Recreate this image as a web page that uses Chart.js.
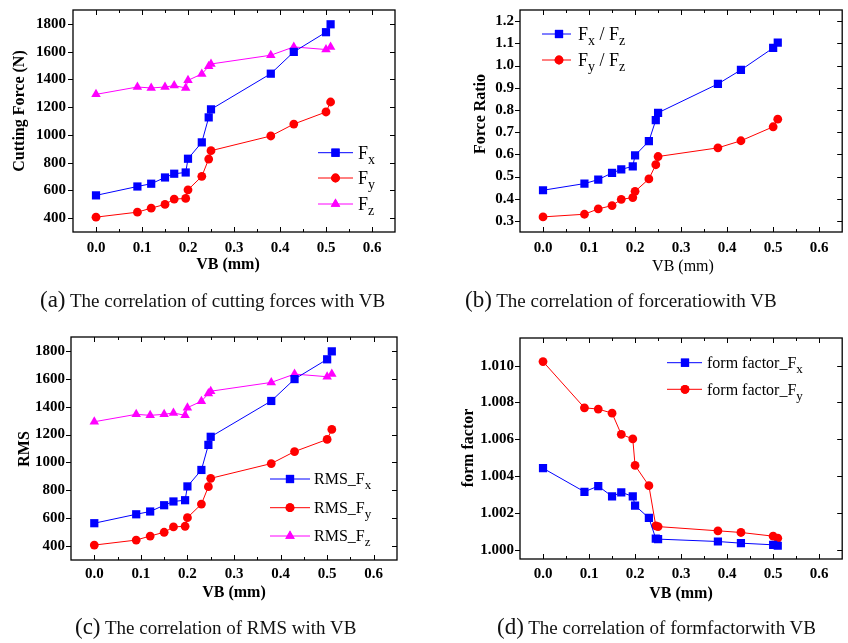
<!DOCTYPE html>
<html>
<head>
<meta charset="utf-8">
<script src="https://cdn.jsdelivr.net/npm/chart.js@4/dist/chart.umd.min.js"></script>
<style>
  body { margin: 0; background: #fff; width: 848px; height: 643px; overflow: hidden; position: relative;
         font-family: "Liberation Serif", "Times New Roman", serif; }
  canvas { position: absolute; }
  .cap { position: absolute; font-size: 19px; line-height: 26px; color: #111; white-space: nowrap; }
  .cap .tag { font-size: 23px; }
</style>
</head>
<body>
<canvas id="chartA" width="424" height="290" style="left:0;top:0"></canvas>
<canvas id="chartB" width="424" height="290" style="left:424px;top:0"></canvas>
<canvas id="chartC" width="424" height="300" style="left:0;top:320px"></canvas>
<canvas id="chartD" width="424" height="300" style="left:424px;top:320px"></canvas>

<div class="cap" style="left:40px;top:287px"><span class="tag">(a)</span> The correlation of cutting forces with VB</div>
<div class="cap" style="left:465px;top:287px"><span class="tag">(b)</span> The correlation of forceratiowith VB</div>
<div class="cap" style="left:75px;top:614px"><span class="tag">(c)</span> The correlation of RMS with VB</div>
<div class="cap" style="left:497px;top:614px"><span class="tag">(d)</span> The correlation of formfactorwith VB</div>

<script>
// Flank wear VB (mm) at each measurement
const vb = [0, 0.09, 0.12, 0.15, 0.17, 0.195, 0.2, 0.23, 0.245, 0.25, 0.38, 0.43, 0.5, 0.51];

// Cutting force components (N)
const forceFx = [564, 628, 648, 693, 720, 729, 828, 946, 1126, 1184, 1441, 1598, 1740, 1797];
const forceFy = [407, 443, 472, 499, 537, 542, 604, 701, 826, 886, 992, 1078, 1165, 1237];
const forceFz = [1292, 1345, 1338, 1345, 1355, 1338, 1393, 1439, 1494, 1511, 1574, 1634, 1615, 1634];

// Force ratios
const ratioFxFz = [0.438, 0.468, 0.486, 0.516, 0.532, 0.546, 0.595, 0.659, 0.754, 0.787, 0.917, 0.980, 1.079, 1.103];
const ratioFyFz = [0.318, 0.330, 0.354, 0.369, 0.397, 0.405, 0.433, 0.489, 0.553, 0.590, 0.629, 0.661, 0.724, 0.758];

// RMS of the force signals
const rmsFx = [564, 628, 648, 693, 720, 729, 828, 946, 1126, 1184, 1441, 1598, 1740, 1797];
const rmsFy = [407, 443, 472, 499, 537, 542, 604, 701, 826, 886, 992, 1078, 1165, 1237];
const rmsFz = [1292, 1345, 1338, 1345, 1355, 1338, 1393, 1439, 1494, 1511, 1574, 1634, 1615, 1634];

// Form factor of the force signals
const formFx = [1.00443, 1.00315, 1.00346, 1.00290, 1.00312, 1.00290, 1.00240, 1.00173, 1.00061, 1.00058, 1.00045, 1.00036, 1.00027, 1.00022];
const formFy = [1.01022, 1.00771, 1.00764, 1.00742, 1.00627, 1.00602, 1.00458, 1.00348, 1.00130, 1.00126, 1.00103, 1.00094, 1.00074, 1.00063];

// Tick values
const vbTicks = [0, 0.1, 0.2, 0.3, 0.4, 0.5, 0.6];
const forceTicks = [400, 600, 800, 1000, 1200, 1400, 1600, 1800];
const ratioTicks = [0.3, 0.4, 0.5, 0.6, 0.7, 0.8, 0.9, 1.0, 1.1, 1.2];
const formTicks = [1.000, 1.002, 1.004, 1.006, 1.008, 1.010];

const FONT = '"Liberation Serif", "Times New Roman", serif';
const BLUE = '#0000ff', RED = '#ff0000', MAGENTA = '#ff00ff';
const MARK = { rect: 5.8, circle: 4.4, triangle: 5.5 };

// Box frame, tick marks, axis titles and the in-plot legend
const framePlugin = {
  id: 'frame',
  afterDraw(chart, args, o) {
    const { ctx, chartArea: a, scales: { x, y } } = chart;
    ctx.save();
    ctx.strokeStyle = '#000';
    ctx.lineWidth = 1.3;
    ctx.strokeRect(a.left, a.top, a.right - a.left, a.bottom - a.top);
    ctx.lineWidth = 1;
    ctx.beginPath();
    const xt = x.ticks.map(t => t.value);
    xt.forEach(v => {
      const p = Math.round(x.getPixelForValue(v)) + 0.5;
      ctx.moveTo(p, a.bottom); ctx.lineTo(p, a.bottom - 5);
      ctx.moveTo(p, a.top); ctx.lineTo(p, a.top + 5);
    });
    for (let i = 0; i < xt.length - 1; i++) {
      const p = Math.round(x.getPixelForValue((xt[i] + xt[i + 1]) / 2)) + 0.5;
      ctx.moveTo(p, a.bottom); ctx.lineTo(p, a.bottom - 3);
      ctx.moveTo(p, a.top); ctx.lineTo(p, a.top + 3);
    }
    y.ticks.forEach(t => {
      const p = Math.round(y.getPixelForValue(t.value)) + 0.5;
      ctx.moveTo(a.left, p); ctx.lineTo(a.left - 5, p);
      ctx.moveTo(a.right, p); ctx.lineTo(a.right - 5, p);
    });
    ctx.stroke();

    // axis titles
    ctx.fillStyle = '#000';
    ctx.textAlign = 'center';
    ctx.textBaseline = 'middle';
    ctx.font = (o.xTitle.bold ? 'bold ' : '') + '16px ' + FONT;
    ctx.fillText(o.xTitle.text, o.xTitle.x, o.xTitle.y);
    ctx.save();
    ctx.translate(o.yTitle.x, o.yTitle.y);
    ctx.rotate(-Math.PI / 2);
    ctx.font = 'bold 16px ' + FONT;
    ctx.fillText(o.yTitle.text, 0, 0);
    ctx.restore();

    // legend
    const L = o.legend;
    L.items.forEach(it => {
      ctx.strokeStyle = it.color;
      ctx.lineWidth = 1;
      ctx.beginPath();
      ctx.moveTo(L.x1, it.y); ctx.lineTo(L.x2, it.y);
      ctx.stroke();
      ctx.fillStyle = it.color;
      Chart.helpers.drawPoint(ctx, { pointStyle: it.style, radius: MARK[it.style], borderWidth: 0 }, L.mx, it.y);
      ctx.fill();
      ctx.fillStyle = '#000';
      ctx.textAlign = 'left';
      ctx.textBaseline = 'alphabetic';
      let tx = L.tx;
      it.parts.forEach(([s, sub]) => {
        ctx.font = (sub ? L.sub : L.size) + 'px ' + FONT;
        ctx.fillText(s, tx, it.y + (sub ? L.size * 0.33 + 5 : L.size * 0.33));
        tx += ctx.measureText(s).width;
      });
    });
    ctx.restore();
  }
};

function series(values, color, style) {
  return {
    data: vb.map((v, i) => ({ x: v, y: values[i] })),
    borderColor: color, backgroundColor: color,
    borderWidth: 1, pointStyle: style, pointRadius: MARK[style],
    pointBorderWidth: 0, pointBackgroundColor: color, tension: 0, showLine: true
  };
}

function makeChart(id, p) {
  const el = document.getElementById(id);
  return new Chart(el, {
    type: 'scatter',
    data: { datasets: p.datasets.map(d => series(d[0], d[1], d[2])) },
    plugins: [framePlugin],
    options: {
      responsive: false, animation: false, devicePixelRatio: 1,
      layout: { padding: { left: 0, top: p.area.top, right: el.width - p.area.right, bottom: 0 } },
      plugins: { legend: { display: false }, tooltip: { enabled: false }, frame: p.frame },
      scales: {
        x: {
          type: 'linear', min: -0.05, max: 0.65,
          afterBuildTicks: s => { s.ticks = vbTicks.map(v => ({ value: v })); },
          afterFit: s => {
            s.height = el.height - p.area.bottom;
            s.paddingLeft = 0; s.paddingRight = 0;
          },
          grid: { display: false, drawTicks: false }, border: { display: false },
          ticks: { color: '#000', padding: p.xPad, maxRotation: 0, autoSkip: false,
                   font: { family: FONT, size: 15, weight: 'bold' }, callback: v => v.toFixed(1) }
        },
        y: {
          type: 'linear', min: p.yMin, max: p.yMax,
          afterBuildTicks: s => { s.ticks = p.yTicks.map(v => ({ value: v })); },
          afterFit: s => {
            s.width = p.area.left;
            s.paddingTop = 0; s.paddingBottom = 0;
          },
          grid: { display: false, drawTicks: false }, border: { display: false },
          ticks: { color: '#000', padding: p.yPad, autoSkip: false,
                   font: { family: FONT, size: 15, weight: 'bold' }, callback: v => v.toFixed(p.yDec) }
        }
      }
    }
  });
}

makeChart('chartA', {
  area: { left: 73, top: 10, right: 395, bottom: 232 },
  yMin: 300, yMax: 1900, yTicks: forceTicks, yDec: 0, xPad: 7, yPad: 7,
  datasets: [[forceFx, BLUE, 'rect'], [forceFy, RED, 'circle'], [forceFz, MAGENTA, 'triangle']],
  frame: {
    xTitle: { text: 'VB (mm)', x: 228, y: 265, bold: true },
    yTitle: { text: 'Cutting Force (N)', x: 20, y: 111 },
    legend: { x1: 318, x2: 353, mx: 335.5, tx: 358, size: 18, sub: 14, items: [
      { y: 152.7, color: BLUE, style: 'rect', parts: [['F', false], ['x', true]] },
      { y: 178, color: RED, style: 'circle', parts: [['F', false], ['y', true]] },
      { y: 204, color: MAGENTA, style: 'triangle', parts: [['F', false], ['z', true]] }
    ] }
  }
});

makeChart('chartB', {
  area: { left: 96, top: 10, right: 419, bottom: 232 },
  yMin: 0.25, yMax: 1.25, yTicks: ratioTicks, yDec: 1, xPad: 7, yPad: 6,
  datasets: [[ratioFxFz, BLUE, 'rect'], [ratioFyFz, RED, 'circle']],
  frame: {
    xTitle: { text: 'VB (mm)', x: 259, y: 267, bold: false },
    yTitle: { text: 'Force Ratio', x: 57, y: 114 },
    legend: { x1: 118, x2: 147, mx: 135, tx: 154, size: 18, sub: 14, items: [
      { y: 34, color: BLUE, style: 'rect', parts: [['F', false], ['x', true], [' / F', false], ['z', true]] },
      { y: 60, color: RED, style: 'circle', parts: [['F', false], ['y', true], [' / F', false], ['z', true]] }
    ] }
  }
});

makeChart('chartC', {
  area: { left: 71, top: 17, right: 397, bottom: 240 },
  yMin: 300, yMax: 1900, yTicks: forceTicks, yDec: 0, xPad: 5, yPad: 6,
  datasets: [[rmsFx, BLUE, 'rect'], [rmsFy, RED, 'circle'], [rmsFz, MAGENTA, 'triangle']],
  frame: {
    xTitle: { text: 'VB (mm)', x: 234, y: 273, bold: true },
    yTitle: { text: 'RMS', x: 25, y: 129 },
    legend: { x1: 270, x2: 310, mx: 290, tx: 314, size: 16, sub: 13, items: [
      { y: 159, color: BLUE, style: 'rect', parts: [['RMS_F', false], ['x', true]] },
      { y: 187.7, color: RED, style: 'circle', parts: [['RMS_F', false], ['y', true]] },
      { y: 216, color: MAGENTA, style: 'triangle', parts: [['RMS_F', false], ['z', true]] }
    ] }
  }
});

makeChart('chartD', {
  area: { left: 96, top: 18, right: 419, bottom: 239 },
  yMin: 0.9995, yMax: 1.0115, yTicks: formTicks, yDec: 3, xPad: 6, yPad: 6,
  datasets: [[formFx, BLUE, 'rect'], [formFy, RED, 'circle']],
  frame: {
    xTitle: { text: 'VB (mm)', x: 257, y: 274, bold: true },
    yTitle: { text: 'form factor', x: 45, y: 128 },
    legend: { x1: 243, x2: 278, mx: 261, tx: 283, size: 16, sub: 13, items: [
      { y: 42.7, color: BLUE, style: 'rect', parts: [['form factor_F', false], ['x', true]] },
      { y: 69.3, color: RED, style: 'circle', parts: [['form factor_F', false], ['y', true]] }
    ] }
  }
});
</script>
</body>
</html>
